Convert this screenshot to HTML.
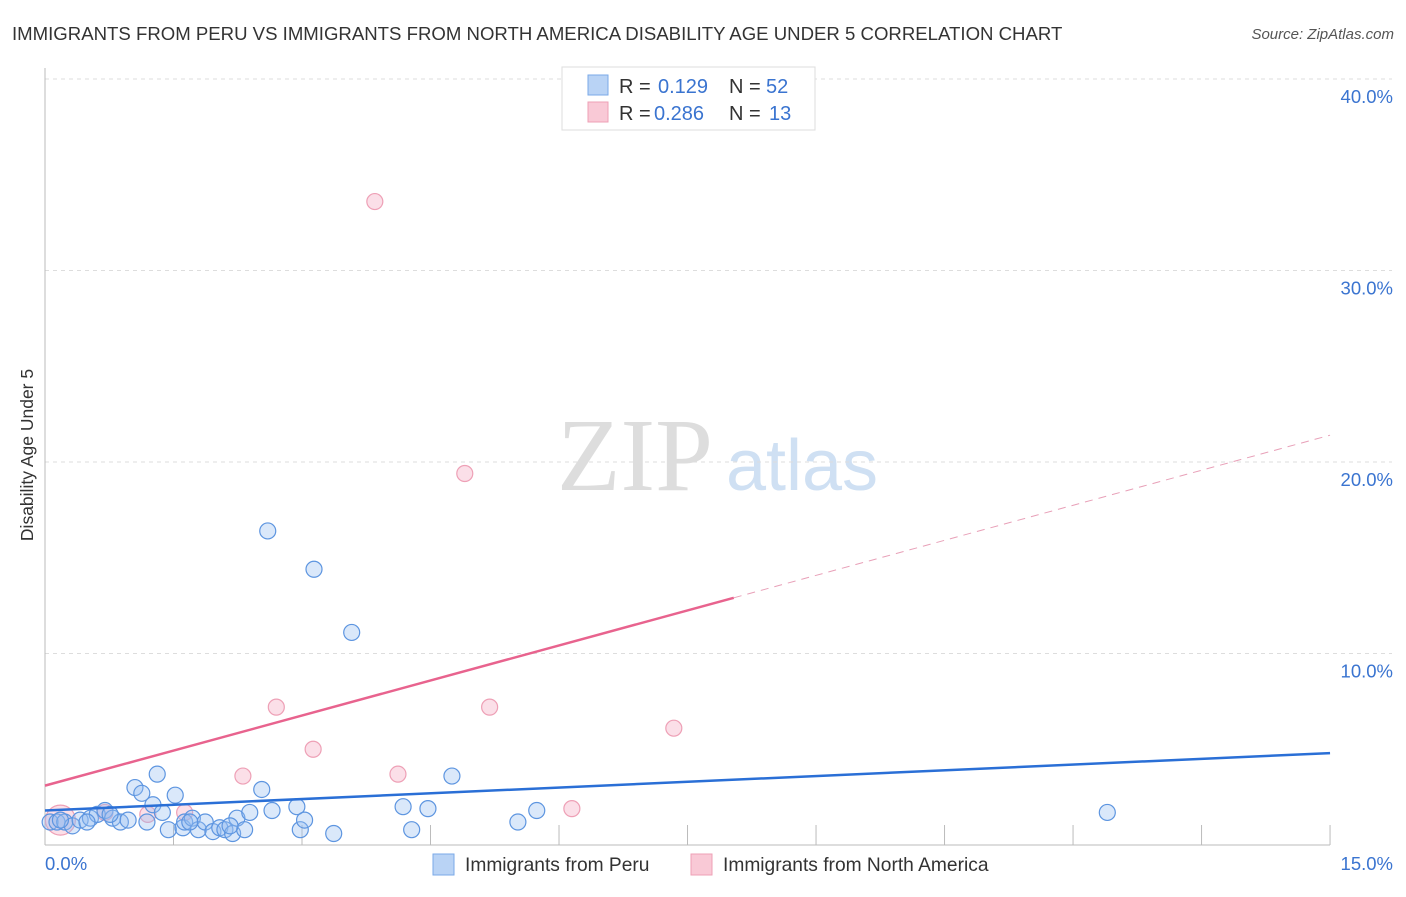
<!DOCTYPE html>
<html><head><meta charset="utf-8"><style>
body{margin:0;background:#fff;font-family:"Liberation Sans",sans-serif;}
</style></head><body>
<svg width="1406" height="892" xmlns="http://www.w3.org/2000/svg">
<text x="12" y="40" font-size="18.6" fill="#333">IMMIGRANTS FROM PERU VS IMMIGRANTS FROM NORTH AMERICA DISABILITY AGE UNDER 5 CORRELATION CHART</text>
<text x="1394" y="39" font-size="15" fill="#555" font-style="italic" text-anchor="end">Source: ZipAtlas.com</text>
<text x="635" y="490" font-size="104" fill="#ddd" font-family="Liberation Serif,serif" text-anchor="middle">ZIP</text>
<text x="802" y="490" font-size="72" fill="#cfe0f3" text-anchor="middle">atlas</text>
<g id="grid"></g>
<g id="axes"></g>
<g id="marks"></g>
<text transform="translate(33,455) rotate(-90)" font-size="17.5" fill="#333" text-anchor="middle">Disability Age Under 5</text>
<g>
<rect x="562" y="67" width="253" height="63" fill="#fff" stroke="#ddd"/>
<rect x="588" y="75" width="20" height="20" fill="#b9d3f5" stroke="#7aa9e8"/>
<text x="619" y="93" font-size="20" fill="#333">R =</text>
<text x="658" y="93" font-size="20" fill="#3a74d0">0.129</text>
<text x="729" y="93" font-size="20" fill="#333">N =</text>
<text x="766" y="93" font-size="20" fill="#3a74d0">52</text>
<rect x="588" y="102" width="20" height="20" fill="#f9c9d6" stroke="#eea0b6"/>
<text x="619" y="120" font-size="20" fill="#333">R =</text>
<text x="654" y="120" font-size="20" fill="#3a74d0">0.286</text>
<text x="729" y="120" font-size="20" fill="#333">N =</text>
<text x="769" y="120" font-size="20" fill="#3a74d0">13</text>
</g>
<g>
<rect x="433" y="854" width="21" height="21" fill="#b9d3f5" stroke="#7aa9e8"/>
<text x="465" y="871" font-size="19.2" fill="#333">Immigrants from Peru</text>
<rect x="691" y="854" width="21" height="21" fill="#f9c9d6" stroke="#eea0b6"/>
<text x="723" y="871" font-size="19.2" fill="#333">Immigrants from North America</text>
</g>
</svg>
<script>
const blueX=[0.06,0.14,0.23,0.32,0.41,0.53,0.61,0.70,0.79,0.88,0.97,1.05,1.13,1.26,1.31,1.19,1.44,1.52,1.61,1.63,1.72,1.79,1.87,1.96,2.04,2.10,2.19,2.24,2.33,2.39,2.53,2.60,2.65,2.94,2.98,3.03,3.14,3.37,3.58,4.18,4.28,4.47,4.75,5.52,5.74,12.40,0.18,0.49,0.76,1.37,2.16,1.69];
const blueY=[1.2,1.2,1.2,1.0,1.3,1.4,1.6,1.8,1.4,1.2,1.3,3.0,2.7,2.1,3.7,1.2,0.8,2.6,0.9,1.2,1.4,0.8,1.2,0.7,0.9,0.8,0.6,1.4,0.8,1.7,2.9,16.4,1.8,2.0,0.8,1.3,14.4,0.6,11.1,2.0,0.8,1.9,3.6,1.2,1.8,1.7,1.3,1.2,1.6,1.7,1.0,1.2];
const pinkX=[0.18,0.70,1.20,1.63,2.31,2.70,3.13,3.85,4.12,4.90,5.19,6.15,7.34];
const pinkY=[1.3,1.7,1.6,1.7,3.6,7.2,5.0,33.6,3.7,19.4,7.2,1.9,6.1];
const blueTrend=[1.8,4.8];
const pinkTrend=[3.1,21.4];
const pinkSolidEnd=8.04;
const yTicks=[10,20,30,40];
const xTickLabels=["0.0%","15.0%"];
const NS="http://www.w3.org/2000/svg";
const sx=v=>45+v*85.67, sy=v=>845-v*19.15;
function mk(tag,attrs,parent){const e=document.createElementNS(NS,tag);for(const k in attrs)e.setAttribute(k,attrs[k]);document.getElementById(parent).appendChild(e);return e;}
yTicks.forEach(t=>{
  const l=mk('line',{x1:45,x2:1392,y1:sy(t),y2:sy(t),stroke:'#ddd','stroke-dasharray':'4,4'},'grid');
  
  
  const tx=mk('text',{x:1393,y:sy(t)+24,'font-size':18.5,fill:'#3a74d0','text-anchor':'end'},'axes');
  tx.textContent=t.toFixed(1)+'%';
  
  
});
let a=mk('line',{x1:45,x2:45,y1:68,y2:845,stroke:'#bbb'},'axes');

a=mk('line',{x1:45,x2:1330,y1:845,y2:845,stroke:'#bbb'},'axes');

for(let i=1;i<=10;i++){const t=mk('line',{x1:sx(i*1.5),x2:sx(i*1.5),y1:825,y2:845,stroke:'#bbb'},'axes');
}
let xl=mk('text',{x:45,y:870,'font-size':18.5,fill:'#3a74d0'},'axes');xl.textContent=xTickLabels[0];

xl=mk('text',{x:1393,y:870,'font-size':18.5,fill:'#3a74d0','text-anchor':'end'},'axes');xl.textContent=xTickLabels[1];

pinkX.forEach((x,i)=>{const c=mk('circle',{cx:sx(x),cy:sy(pinkY[i]),r:i===0?15:8,fill:'rgba(244,164,188,0.35)',stroke:'#eea0b6','stroke-width':1.2},'marks');
});
blueX.forEach((x,i)=>{const c=mk('circle',{cx:sx(x),cy:sy(blueY[i]),r:8,fill:'rgba(150,190,240,0.35)',stroke:'#5d95e0','stroke-width':1.2},'marks');
});
const pAt=x=>pinkTrend[0]+(pinkTrend[1]-pinkTrend[0])*x/15;
let l=mk('line',{x1:sx(0),y1:sy(pinkTrend[0]),x2:sx(pinkSolidEnd),y2:sy(pAt(pinkSolidEnd)),stroke:'#e8638e','stroke-width':2.5},'marks');

l=mk('line',{x1:sx(pinkSolidEnd),y1:sy(pAt(pinkSolidEnd)),x2:sx(15),y2:sy(pinkTrend[1]),stroke:'#e8a0b8','stroke-width':1,'stroke-dasharray':'8,6'},'marks');

l=mk('line',{x1:sx(0),y1:sy(blueTrend[0]),x2:sx(15),y2:sy(blueTrend[1]),stroke:'#2a6fd6','stroke-width':2.5},'marks');

</script>
</body></html>
